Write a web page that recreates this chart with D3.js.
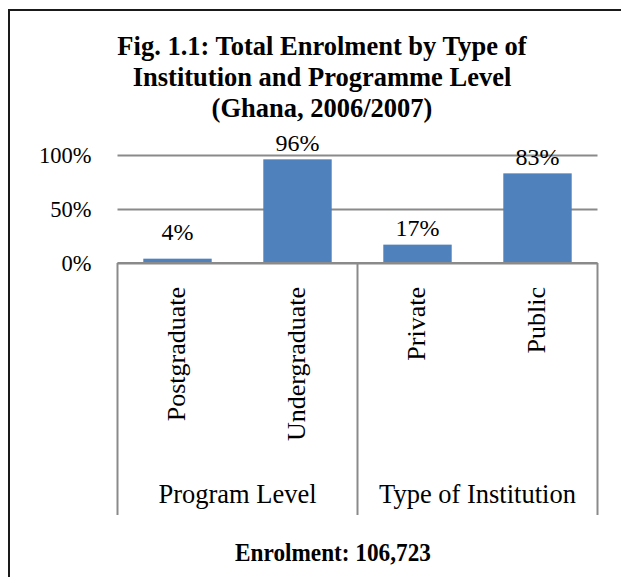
<!DOCTYPE html>
<html>
<head>
<meta charset="utf-8">
<script src="https://cdn.jsdelivr.net/npm/d3@7"></script>
<style>
  html, body { margin: 0; padding: 0; background: #fff; }
  svg { display: block; }
  svg text { font-family: "Liberation Serif", "Times New Roman", serif !important; fill: #000; }
</style>
</head>
<body>
<svg id="chart" width="621" height="577"></svg>
<script>
// ---- data ----
const titleLines = ["Fig. 1.1: Total Enrolment by Type of", "Institution and Programme Level", "(Ghana, 2006/2007)"];
const categories = ["Postgraduate", "Undergraduate", "Private", "Public"];
const groupOfCategory = ["Program Level", "Program Level", "Type of Institution", "Type of Institution"];
const groupNames = ["Program Level", "Type of Institution"];
const values = [0.04, 0.96, 0.17, 0.83];
const yTicks = [0, 0.5, 1];
const footerText = "Enrolment: 106,723";

// ---- layout ----
const FONT = '"Liberation Serif", "Times New Roman", serif';
const svg = d3.select("#chart");
const plotLeft = 117.5, plotRight = 597.5, plotTop = 155, plotBottom = 263, axisBottom = 515;
const barColor = "#4F81BD", gridColor = "#8a8a8a";

// outer frame
svg.append("rect").attr("x", 9).attr("y", 10).attr("width", 700).attr("height", 700)
  .attr("fill", "none").attr("stroke", "#1a1a1a").attr("stroke-width", 2);

// title
svg.append("g").selectAll("text").data(titleLines).join("text")
  .attr("x", 322).attr("y", (d, i) => 55 + i * 31)
  .attr("text-anchor", "middle").attr("font-weight", "bold").attr("font-size", 26.5)
  .style("font-family", FONT)
  .text(d => d);

const x = d3.scaleBand().domain(categories).range([plotLeft, plotRight])
  .paddingInner(0.43).paddingOuter(0.215);
const y = d3.scaleLinear().domain([0, 1]).range([plotBottom, plotTop]);

// gridlines + y labels
const yAxis = svg.append("g").attr("transform", `translate(${plotLeft},0)`)
  .call(d3.axisLeft(y).tickValues(yTicks).tickFormat(d3.format(".0%"))
    .tickSizeInner(-(plotRight - plotLeft)).tickSizeOuter(0).tickPadding(26));
yAxis.attr("font-family", null).attr("font-size", null);
yAxis.select(".domain").remove();
yAxis.selectAll(".tick line").attr("stroke", gridColor).attr("stroke-width", 2);
yAxis.selectAll(".tick text").attr("font-size", 22.5).style("font-family", FONT).attr("fill", "#000");

// bars
svg.append("g").selectAll("rect").data(categories).join("rect")
  .attr("x", d => x(d)).attr("width", x.bandwidth())
  .attr("y", (d, i) => y(values[i])).attr("height", (d, i) => y(0) - y(values[i]))
  .attr("fill", barColor);

// data labels
svg.append("g").selectAll("text").data(categories).join("text")
  .attr("x", d => x(d) + x.bandwidth() / 2)
  .attr("y", (d, i) => Math.min(y(values[i]) - 8.5, 240))
  .attr("text-anchor", "middle").attr("font-size", 24)
  .style("font-family", FONT)
  .text((d, i) => d3.format(".0%")(values[i]));

// category axis (multi-level)
const step = x.step(), gap = (step - x.bandwidth()) / 2;
const boundaries = [];
groupNames.forEach(g => {
  const members = categories.filter((c, i) => groupOfCategory[i] === g);
  boundaries.push({ g, x0: x(members[0]) - gap, x1: x(members[members.length - 1]) + x.bandwidth() + gap });
});
const edgeXs = [boundaries[0].x0].concat(boundaries.map(b => b.x1));
const axisG = svg.append("g");
axisG.append("line").attr("x1", plotLeft).attr("x2", plotRight).attr("y1", plotBottom).attr("y2", plotBottom)
  .attr("stroke", gridColor).attr("stroke-width", 2);
axisG.selectAll("line.sep").data(edgeXs).join("line").attr("class", "sep")
  .attr("x1", d => d).attr("x2", d => d).attr("y1", plotBottom).attr("y2", axisBottom)
  .attr("stroke", gridColor).attr("stroke-width", 2);

// category labels (rotated)
svg.append("g").selectAll("text").data(categories).join("text")
  .attr("transform", d => `translate(${x(d) + x.bandwidth() / 2 + 7},287) rotate(-90)`)
  .attr("text-anchor", "end").attr("font-size", 26)
  .style("font-family", FONT)
  .text(d => d);

// group labels
svg.append("g").selectAll("text").data(boundaries).join("text")
  .attr("x", d => (d.x0 + d.x1) / 2).attr("y", 503)
  .attr("text-anchor", "middle").attr("font-size", 26.5)
  .style("font-family", FONT)
  .text(d => d.g);

// footer
svg.append("text").attr("transform", "translate(333,561) scale(0.93,1)").attr("text-anchor", "middle")
  .attr("font-weight", "bold").attr("font-size", 25)
  .style("font-family", FONT)
  .text(footerText);
</script>
</body>
</html>
